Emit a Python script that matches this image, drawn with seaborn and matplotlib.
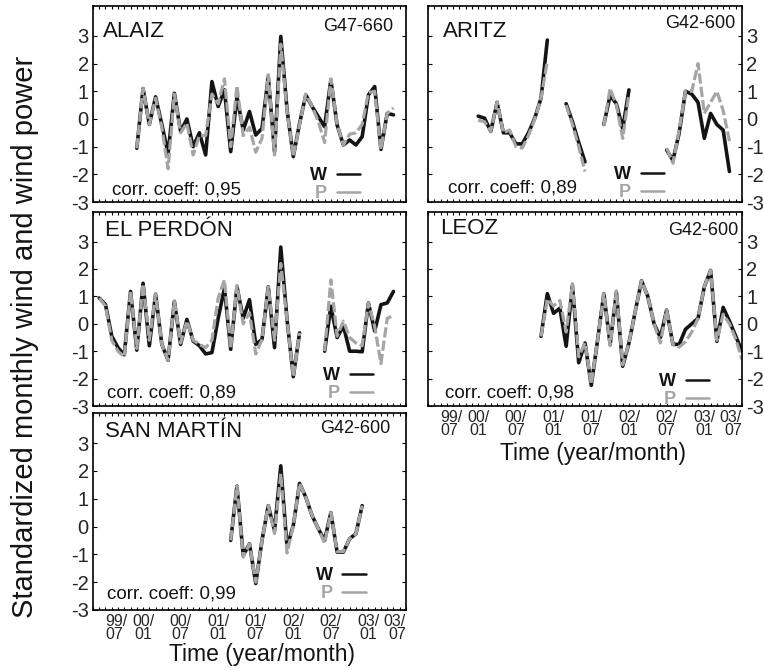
import numpy as np
import pandas as pd
import matplotlib
matplotlib.use("Agg")
import matplotlib.pyplot as plt
import seaborn as sns
from matplotlib.ticker import MultipleLocator
from matplotlib.lines import Line2D

# months counted from 99/07 (=0)
tick_months = [0, 6, 12, 18, 24, 30, 36, 42, 48]
tick_labels = ["99/\n07", "00/\n01", "00/\n07", "01/\n01", "01/\n07",
               "02/\n01", "02/\n07", "03/\n01", "03/\n07"]

# ALAIZ
alaiz_start = [5]
alaiz_w = [[-1.06, 1.1, -0.2, 0.8, -0.2, -1.25, 0.93, -0.45, 0.0, -1.0, -0.5, -1.3, 1.35, 0.45,
            1.05, -1.18, 0.8, -0.4, 0.27, -0.58, -0.34, 1.53, -1.18, 2.98, 0.33, -1.36, -0.16,
            0.87, 0.45, 0.08, -0.28, 1.41, -0.22, -0.94, -0.76, -0.94, -0.64, 0.87, 1.17, -1.1,
            0.2, 0.15]]
alaiz_p = [[-1.06, 1.1, -0.2, 0.75, -0.3, -1.8, 0.9, -0.5, -0.15, -1.3, -0.6, -0.6, 0.9, 0.55,
            1.45, -1.0, 1.2, -0.6, -0.3, -1.2, -0.7, 1.6, -1.3, 2.7, 0.3, -1.36, -0.2,
            0.9, 0.45, -0.1, -0.85, 1.45, -0.2, -0.94, -0.55, -0.5, -0.2, 0.95, 1.0, -1.1,
            0.2, 0.4]]

# ARITZ
aritz_start = [6, 20, 26, 36]
aritz_w = [[0.1, 0.03, -0.45, 0.6, -0.5, -0.5, -0.9, -0.9, -0.5, 0.03, 0.75, 2.85],
           [0.55, -0.1, -0.85, -1.55],
           [-0.2, 0.85, 0.55, -0.35, 1.05],
           [-1.12, -1.5, -0.5, 1.0, 0.9, 0.6, -0.7, 0.2, -0.2, -0.4, -1.9]]
aritz_p = [[-0.05, -0.1, -0.45, 0.6, -0.5, -0.4, -1.0, -1.05, -0.6, 0.0, 0.75, 2.1],
           [0.5, -0.2, -1.0, -1.9],
           [-0.25, 1.1, 0.5, -0.7, 0.9],
           [-1.05, -1.6, -0.4, 1.0, 1.0, 2.0, 0.2, 0.6, 1.0, 0.3, -0.8]]

# EL PERDON
perdon_start = [-1, 35]
perdon_w = [[0.94, 0.7, -0.45, -0.87, -1.13, 1.18, -0.96, 1.48, -0.8, 1.08, -0.75, -1.33, 0.82,
             -0.75, 0.16, -0.63, -0.8, -1.1, -1.05, 0.2, 1.3, -0.93, 1.35, 0.2, 0.88, -0.75,
             -0.57, 1.35, -0.87, 2.8, 0.15, -1.93, -0.33],
            [-1.0, 0.64, -0.5, -0.08, -1.0, -1.0, -1.02, 0.76, -0.27, 0.7, 0.76, 1.18]]
perdon_p = [[0.94, 0.65, -0.6, -1.0, -1.2, 1.18, -0.9, 1.45, -0.6, 1.08, -0.75, -1.33, 0.82,
             -0.7, 0.1, -0.6, -0.75, -0.87, -0.6, 0.94, 1.6, -0.9, 1.4, 0.0, 0.4, -1.1,
             -0.57, 1.35, -0.6, 2.2, 0.15, -1.93, -0.33],
            [-1.0, 1.6, -0.45, 0.1, -0.5, -0.7, -0.8, 0.76, -0.1, -1.45, 0.2, 0.3]]

# LEOZ
leoz_start = [16]
leoz_w = [[-0.46, 1.1, 0.38, 0.57, -0.82, 1.4, -1.42, -0.7, -2.25, -0.6, 1.1, -0.75, 1.15, -1.55,
           -0.7, 0.45, 1.57, 1.0, 0.0, -0.5, 0.5, -0.75, -0.75, -0.2, 0.0, 0.2, 1.35, 1.95,
           -0.64, 0.6, 0.1, -0.45, -1.0]]
leoz_p = [[-0.46, 0.9, 0.65, 0.85, -0.3, 1.47, -1.2, -0.7, -2.2, -0.6, 1.1, -0.8, 1.2, -1.5,
           -0.7, 0.45, 1.57, 1.0, 0.0, -0.7, 0.5, -0.75, -0.85, -0.65, -0.3, 0.2, 1.35, 1.95,
           -0.6, 0.35, 0.0, -0.55, -1.3]]

# SAN MARTIN
martin_start = [20]
martin_w = [[-0.5, 1.45, -1.04, -0.62, -2.05, -0.5, 0.75, -0.14, 2.18, -0.74, 0.04, 1.55, 1.05,
             0.39, -0.08, -0.5, 0.5, -0.92, -0.92, -0.44, -0.26, 0.75]]
martin_p = [[-0.5, 1.45, -1.1, -0.62, -2.0, -0.5, 0.75, -0.25, 1.9, -0.95, 0.04, 1.55, 1.05,
             0.39, -0.08, -0.6, 0.5, -0.9, -0.9, -0.44, -0.26, 0.75]]

BLACK = "#141414"
GRAY = "#a5a5a5"


def make_frame(starts, segs):
    rows = []
    for k, (s, vals) in enumerate(zip(starts, segs)):
        for i, v in enumerate(vals):
            rows.append({"month": s + i, "value": v, "seg": k})
    return pd.DataFrame(rows)


sns.set_theme(style="white")
plt.rcParams["font.family"] = ["Liberation Sans", "DejaVu Sans"]
plt.rcParams["axes.unicode_minus"] = False

fig = plt.figure(figsize=(7.64, 6.70), dpi=100)

# name, model, corr, starts, w, p, rect, side, bottom, text positions, legend anchor
panels = [
    ("ALAIZ", "G47-660", "0,95", alaiz_start, alaiz_w, alaiz_p,
     [0.1217, 0.6985, 0.4097, 0.2925], "left", False,
     (0.032, 0.843), (0.959, 0.874), (0.06, 0.039), (0.853, 0.0)),
    ("ARITZ", "G42-600", "0,89", aritz_start, aritz_w, aritz_p,
     [0.5602, 0.6985, 0.4110, 0.2925], "right", False,
     (0.049, 0.843), (0.978, 0.886), (0.065, 0.047), (0.752, 0.005)),
    ("EL PERDÓN", None, "0,89", perdon_start, perdon_w, perdon_p,
     [0.1217, 0.394, 0.4097, 0.2896], "left", False,
     (0.038, 0.876), None, (0.044, 0.045), (0.895, 0.02)),
    ("LEOZ", "G42-600", "0,98", leoz_start, leoz_w, leoz_p,
     [0.5602, 0.394, 0.4110, 0.2896], "right", True,
     (0.038, 0.889), (0.988, 0.88), (0.054, 0.043), (0.895, -0.01)),
    ("SAN MARTÍN", "G42-600", "0,99", martin_start, martin_w, martin_p,
     [0.1217, 0.0896, 0.4097, 0.294], "left", True,
     (0.038, 0.88), (0.949, 0.897), (0.044, 0.059), (0.872, 0.04)),
]

for (name, model, corr, starts, w, p, rect, side, bottom,
     name_xy, model_xy, corr_xy, leg_xy) in panels:
    ax = fig.add_axes(rect)
    dw = make_frame(starts, w)
    dp = make_frame(starts, p)
    sns.lineplot(data=dw, x="month", y="value", units="seg", estimator=None,
                 color=BLACK, lw=2.6, ax=ax, legend=False)
    n = len(ax.lines)
    sns.lineplot(data=dp, x="month", y="value", units="seg", estimator=None,
                 color=GRAY, lw=2.3, ax=ax, legend=False)
    for ln in ax.lines[n:]:
        ln.set_dashes((3.2, 1.0))

    ax.set_xlim(-2, 48)
    ax.set_ylim(-3, 4.08)
    ax.set_xlabel("")
    ax.set_ylabel("")
    ax.set_yticks([-3, -2, -1, 0, 1, 2, 3])
    ax.set_yticklabels(["-3", "-2", "-1", "0", "1", "2", "3"], fontsize=14.5)
    ax.set_xticks(tick_months)
    ax.set_xticklabels(tick_labels, fontsize=11.5, linespacing=0.8)
    ax.xaxis.set_minor_locator(MultipleLocator(1))

    for sp in ax.spines.values():
        sp.set_color("black")
        sp.set_linewidth(1.2)
    ax.tick_params(axis="x", which="both", direction="in", top=True, bottom=True,
                   length=2.5, width=0.8, color="black", labelbottom=bottom, pad=3)
    ax.tick_params(axis="y", direction="in", left=True, right=True, length=3,
                   width=0.8, color="black", labelleft=(side == "left"),
                   labelright=(side == "right"), pad=3)
    # first and last labels sit inside the frame in the original
    majors = ax.xaxis.get_major_ticks()
    majors[0].label1.set_horizontalalignment("left")
    majors[-1].label1.set_horizontalalignment("right")

    ax.text(name_xy[0], name_xy[1], name, transform=ax.transAxes, fontsize=16,
            ha="left", va="baseline", color=BLACK)
    if model:
        ax.text(model_xy[0], model_xy[1], model, transform=ax.transAxes, fontsize=13,
                ha="right", va="baseline", color=BLACK)
    ax.text(corr_xy[0], corr_xy[1], "corr. coeff: " + corr, transform=ax.transAxes,
            fontsize=13.5, ha="left", va="baseline", color=BLACK)

    handles = [Line2D([], [], color=BLACK, lw=1.8), Line2D([], [], color=GRAY, lw=1.8)]
    leg = ax.legend(handles, ["W", "P"], loc="lower right", bbox_to_anchor=leg_xy,
                    frameon=False, markerfirst=False, handlelength=1.3,
                    handletextpad=0.55, labelspacing=0.05, borderpad=0,
                    borderaxespad=0, prop={"weight": "bold", "size": 13})
    for txt, c in zip(leg.get_texts(), [BLACK, GRAY]):
        txt.set_color(c)

    if bottom:
        xl = 0.539 if side == "left" else 0.525
        yl = -0.228 if side == "left" else -0.243
        ax.text(xl, yl, "Time (year/month)", transform=ax.transAxes, fontsize=16.5,
                ha="center", va="center", color=BLACK)

fig.text(0.033, 0.497, "Standardized monthly wind and wind power", rotation=90,
         fontsize=21, ha="center", va="center", color=BLACK)

fig.savefig("out.png", dpi=100)
